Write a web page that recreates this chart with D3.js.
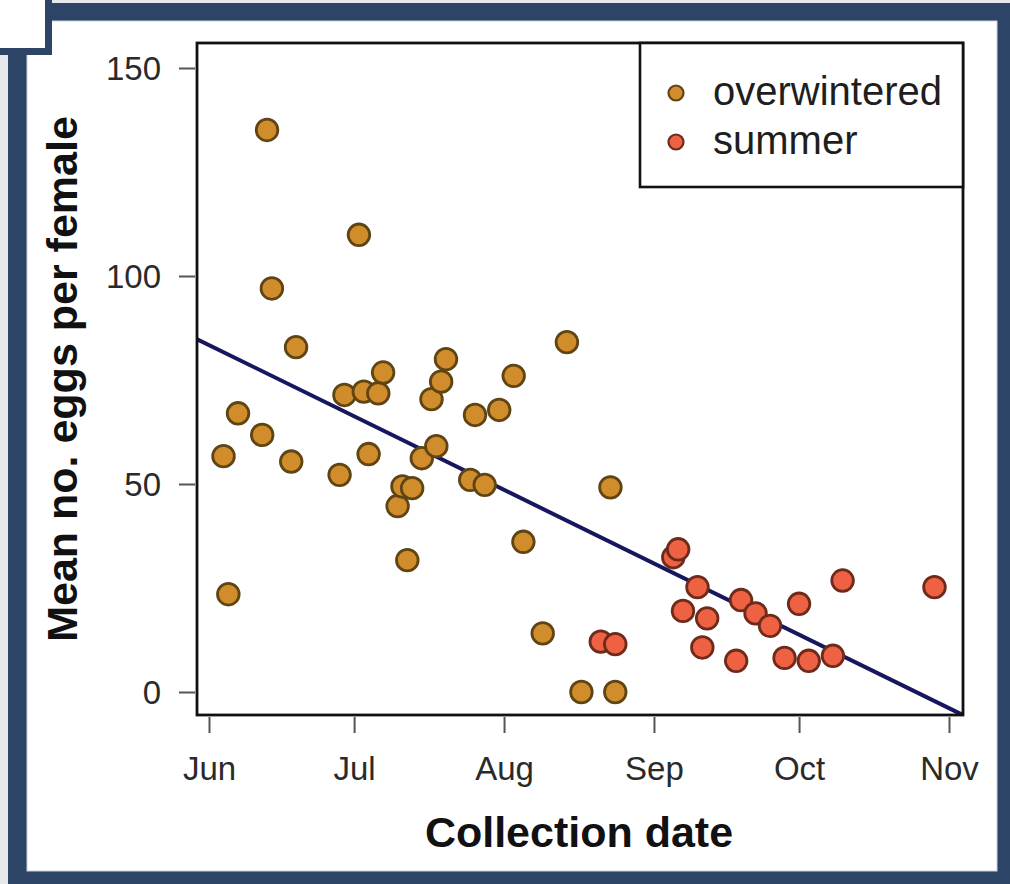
<!DOCTYPE html>
<html>
<head>
<meta charset="utf-8">
<script src="https://cdn.jsdelivr.net/npm/d3@7"></script>
<style>
  html, body { margin: 0; padding: 0; background: #fff; }
  svg { display: block; font-family: "Liberation Sans", Arial, Helvetica, sans-serif; }
</style>
</head>
<body>
<svg id="chart" width="1010" height="884"></svg>
<script>
// Collection dates and mean egg counts per female
const overwinteredDates = [
  "2013-06-04","2013-06-05","2013-06-07","2013-06-12","2013-06-13","2013-06-14",
  "2013-06-18","2013-06-19","2013-06-28","2013-06-29","2013-07-02","2013-07-03",
  "2013-07-04","2013-07-06","2013-07-07","2013-07-10","2013-07-11","2013-07-12",
  "2013-07-13","2013-07-15","2013-07-17","2013-07-18","2013-07-19","2013-07-20",
  "2013-07-25","2013-07-26","2013-07-28","2013-07-31","2013-08-03","2013-08-05",
  "2013-08-09","2013-08-14","2013-08-17","2013-08-23","2013-08-24"
];
const overwinteredEggs = [
  56.7, 23.5, 67.0, 61.8, 135.1, 97.0,
  55.4, 82.9, 52.2, 71.4, 109.9, 72.2,
  57.2, 71.8, 76.8, 44.7, 49.4, 31.7,
  49.0, 56.2, 70.4, 59.1, 74.6, 80.0,
  51.0, 66.6, 49.8, 67.8, 76.0, 36.1,
  14.1, 84.1, 0, 49.2, 0
];
const summerDates = [
  "2013-08-21","2013-08-24","2013-09-05","2013-09-06","2013-09-07","2013-09-10",
  "2013-09-11","2013-09-12","2013-09-18","2013-09-19","2013-09-22","2013-09-25",
  "2013-09-28","2013-10-01","2013-10-03","2013-10-08","2013-10-10","2013-10-29"
];
const summerEggs = [
  12.1, 11.5, 32.4, 34.3, 19.5, 25.2,
  10.7, 17.7, 7.5, 22.1, 18.9, 15.9,
  8.2, 21.2, 7.5, 8.7, 26.8, 25.2
];
// Linear fit: eggs = intercept + slope * (days since 1 June)
const fitCoefficients = [83.4, -0.5706];
const monthTicks = ["2013-06-01","2013-07-01","2013-08-01","2013-09-01","2013-10-01","2013-11-01"];
const monthLabels = ["Jun","Jul","Aug","Sep","Oct","Nov"];
const eggTicks = [0, 50, 100, 150];
const seriesNames = ["overwintered", "summer"];

const parse = d3.timeParse("%Y-%m-%d");
const svg = d3.select("#chart");
const W = 1010, H = 884;
const frameColor = "#2c4567";

// Outer frame
svg.append("rect").attr("x", 0).attr("y", 0).attr("width", W).attr("height", H).attr("fill", "#e6e8ec");
svg.append("rect").attr("x", 8).attr("y", 3).attr("width", W - 8).attr("height", H - 3).attr("fill", frameColor);
svg.append("rect").attr("x", 27).attr("y", 21).attr("width", 970).attr("height", 850)
  .attr("fill", "#fff").attr("stroke", "#c9d2de").attr("stroke-width", 1);

// Plot region
const box = { left: 197, right: 963, top: 43, bottom: 715 };

const x = d3.scaleTime()
  .domain([parse(monthTicks[0]), parse(monthTicks[monthTicks.length - 1])])
  .range([209, 949]);
const y = d3.scaleLinear().domain([0, 150]).range([692, 68]);

// Y axis
const yAxis = d3.axisLeft(y).tickValues(eggTicks).tickSize(16).tickPadding(18).tickFormat(d3.format("d"));
const gy = svg.append("g").attr("transform", `translate(${box.left - 2},0)`).call(yAxis);
gy.select(".domain").remove();
gy.selectAll(".tick line").attr("stroke", "#555").attr("stroke-width", 2);
gy.selectAll(".tick text").attr("fill", "#2a2a2a").attr("font-size", 33).attr("dy", "0.36em");

// X axis
const xAxis = d3.axisBottom(x).tickValues(monthTicks.map(parse)).tickSize(16).tickPadding(24)
  .tickFormat((d, i) => monthLabels[i]);
const gx = svg.append("g").attr("transform", `translate(0,${box.bottom + 2})`).call(xAxis);
gx.select(".domain").remove();
gx.selectAll(".tick line").attr("stroke", "#555").attr("stroke-width", 2);
gx.selectAll(".tick text").attr("fill", "#2a2a2a").attr("font-size", 33).attr("dy", "0.71em");

// Axis titles
svg.append("text").attr("x", 579).attr("y", 847).attr("text-anchor", "middle")
  .attr("font-size", 43).attr("font-weight", "bold").attr("fill", "#111").text("Collection date");
svg.append("text").attr("transform", "translate(77,379) rotate(-90)").attr("text-anchor", "middle")
  .attr("font-size", 43).attr("font-weight", "bold").attr("fill", "#111").text("Mean no. eggs per female");

// Clip for the regression line
svg.append("clipPath").attr("id", "plotClip").append("rect")
  .attr("x", box.left).attr("y", box.top).attr("width", box.right - box.left).attr("height", box.bottom - box.top);

const day0 = parse(monthTicks[0]);
const fitAt = d => fitCoefficients[0] + fitCoefficients[1] * ((d - day0) / 864e5);
const lineEnds = [x.invert(box.left - 5), x.invert(box.right + 5)];
svg.append("path")
  .datum(lineEnds)
  .attr("clip-path", "url(#plotClip)")
  .attr("d", d3.line().x(d => x(d)).y(d => y(fitAt(d))))
  .attr("fill", "none").attr("stroke", "#17175f").attr("stroke-width", 4);

// Points
const styles = {
  overwintered: { fill: "#d18d2b", stroke: "#5f4514" },
  summer: { fill: "#ee6243", stroke: "#6e2a1b" }
};
const overwintered = overwinteredDates.map((d, i) => ({ date: parse(d), eggs: overwinteredEggs[i] }));
const summer = summerDates.map((d, i) => ({ date: parse(d), eggs: summerEggs[i] }));

[[overwintered, "overwintered"], [summer, "summer"]].forEach(([data, key]) => {
  svg.append("g").selectAll("circle").data(data).join("circle")
    .attr("cx", d => x(d.date)).attr("cy", d => y(d.eggs)).attr("r", 10.8)
    .attr("fill", styles[key].fill).attr("stroke", styles[key].stroke).attr("stroke-width", 2.8);
});

// Plot border
svg.append("rect").attr("x", box.left).attr("y", box.top)
  .attr("width", box.right - box.left).attr("height", box.bottom - box.top)
  .attr("fill", "none").attr("stroke", "#111").attr("stroke-width", 2.8);

// Legend
const lg = svg.append("g");
lg.append("rect").attr("x", 640).attr("y", box.top).attr("width", box.right - 640).attr("height", 144)
  .attr("fill", "#fff").attr("stroke", "#111").attr("stroke-width", 2.6);
seriesNames.forEach((name, i) => {
  const cy = 93 + i * 49;
  lg.append("circle").attr("cx", 676).attr("cy", cy).attr("r", 7.5)
    .attr("fill", styles[name].fill).attr("stroke", styles[name].stroke).attr("stroke-width", 2.2);
  lg.append("text").attr("x", 713).attr("y", cy + 12).attr("font-size", 40).attr("fill", "#1e1e1e").text(name);
});

// Corner tab over the frame
svg.append("rect").attr("x", -10).attr("y", -10).attr("width", 58.5).attr("height", 61.5)
  .attr("fill", "#fff").attr("stroke", frameColor).attr("stroke-width", 7);
</script>
</body>
</html>
